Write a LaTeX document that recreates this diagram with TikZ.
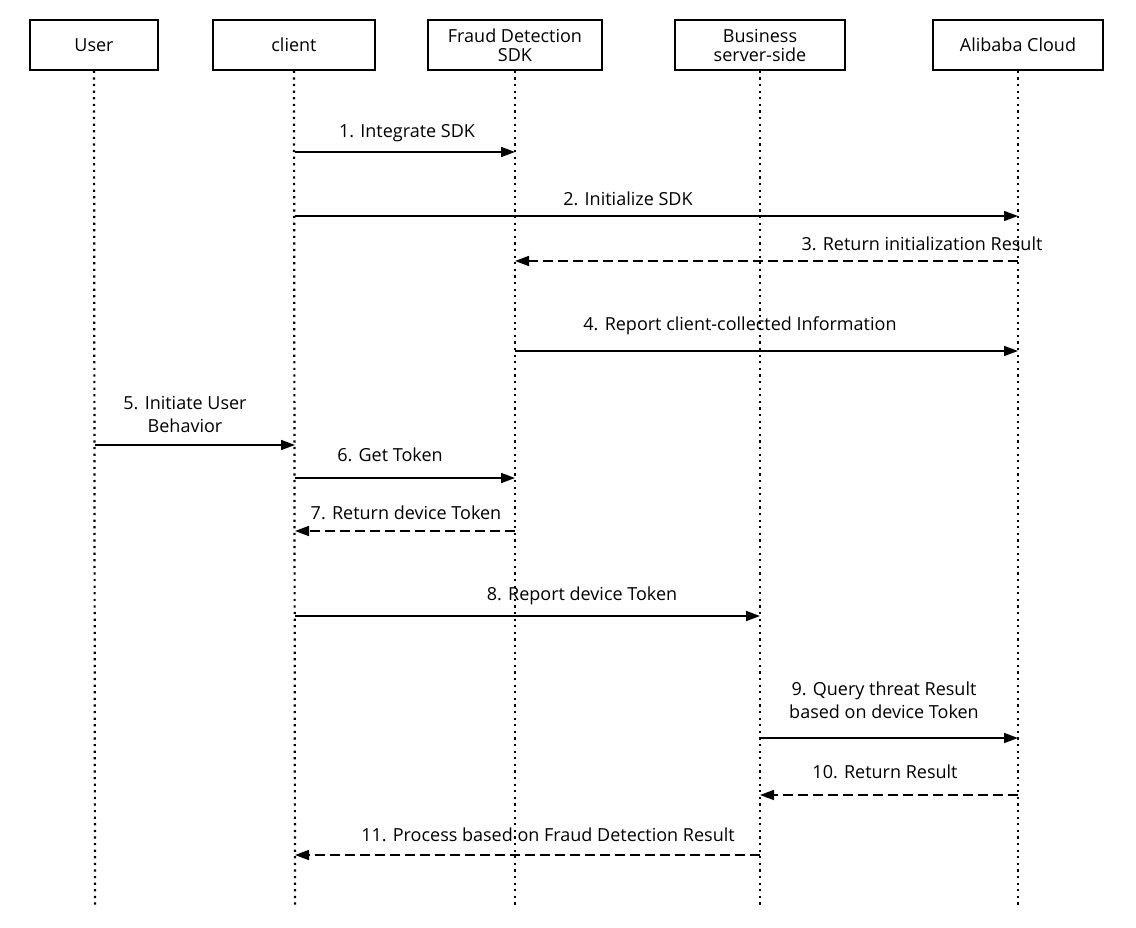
\documentclass[tikz,border=0pt]{standalone}
\usepackage{fontspec}
\setmainfont{Open Sans}
\usetikzlibrary{arrows.meta}
\begin{document}
\begin{tikzpicture}[x=1pt,y=-1pt,
  box/.style={draw,line width=1.6pt,minimum height=50pt,inner sep=0pt,align=center,font=\fontsize{18}{19}\selectfont},
  life/.style={line width=2.2pt,dash pattern=on 2.2pt off 4.4pt},
  msg/.style={line width=1.6pt,-{Triangle[length=14pt,width=10pt]}},
  ret/.style={msg,dash pattern=on 10pt off 5pt},
  lab/.style={font=\fontsize{18}{23}\selectfont,align=center,inner sep=0pt}]
\useasboundingbox (0,0) rectangle (1136,928);
\fill[white] (0,0) rectangle (1136,928);
\node[box,minimum width=128pt] (u) at (94,45) {User};
\node[box,minimum width=162pt] (c) at (294,45) {client};
\node[box,minimum width=174pt] (s) at (515,45) {Fraud Detection\\SDK};
\node[box,minimum width=170pt] (b) at (760,45) {Business\\server-side};
\node[box,minimum width=170pt] (a) at (1018,45) {Alibaba Cloud};
\foreach \n/\x in {u/95,c/295,s/515,b/760,a/1018}{
  \coordinate (\n e) at (\x,905);
  \draw[life] (\n.south) -- (\n e);}
\foreach \i/\y in {1/152,2/216,3/261,4/351,5/445,6/478,7/531,8/616,9/738,10/795,11/855}{
  \coordinate (uu\i) at (95,\y); \coordinate (cc\i) at (295,\y);
  \coordinate (ss\i) at (515,\y); \coordinate (bb\i) at (760,\y);
  \coordinate (aa\i) at (1018,\y);}
\draw[msg] (cc1) -- (ss1); \node[lab] at (407,133) {1. Integrate SDK};
\draw[msg] (cc2) -- (aa2); \node[lab] at (628,199) {2. Initialize SDK};
\draw[ret] (aa3) -- (ss3); \node[lab] at (922,244) {3. Return initialization Result};
\draw[msg] (ss4) -- (aa4); \node[lab] at (740,326) {4. Report client-collected Information};
\draw[msg] (uu5) -- (cc5); \node[lab] at (185,414) {5. Initiate User\\Behavior};
\draw[msg] (cc6) -- (ss6); \node[lab] at (390,455) {6. Get Token};
\draw[ret] (ss7) -- (cc7); \node[lab] at (406,513) {7. Return device Token};
\draw[msg] (cc8) -- (bb8); \node[lab] at (582,596) {8. Report device Token};
\draw[msg] (bb9) -- (aa9); \node[lab] at (884,700) {9. Query threat Result\\based on device Token};
\draw[ret] (aa10) -- (bb10); \node[lab] at (885,772) {10. Return Result};
\draw[ret] (bb11) -- (cc11); \node[lab] at (548,835) {11. Process based on Fraud Detection Result};
\end{tikzpicture}
\end{document}
